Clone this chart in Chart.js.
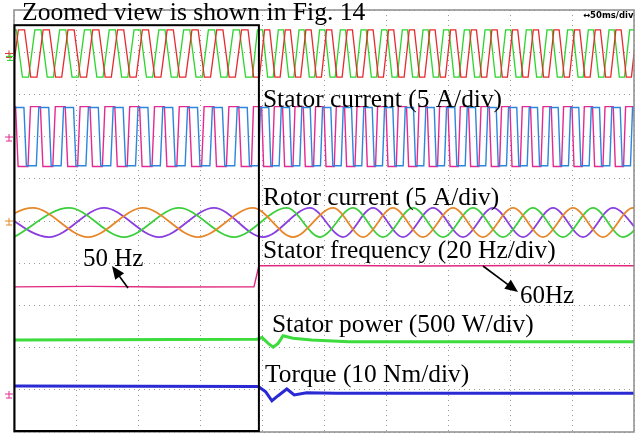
<!DOCTYPE html>
<html>
<head>
<meta charset="utf-8">
<title>Stator frequency step 50 Hz to 60 Hz</title>
<script src="https://cdn.jsdelivr.net/npm/chart.js"></script>
<style>
  body { margin: 0; background: #fff; }
  #wrap { width: 642px; height: 434px; position: relative; }
</style>
</head>
<body>
<div id="wrap"><canvas id="scope"></canvas></div>
<script>
// time axis in ms (50 ms/div, 10 div); levels in screen divisions (0 = bottom, 10 = top)

// stator voltage, zero crossings (ms)
const redRise = [1, 21, 41, 61, 81, 101, 121, 141, 161, 181, 200, 216.7, 233.3, 250, 266.7, 283.3, 300, 316.7, 333.3, 350, 366.7, 383.3, 400, 416.7, 433.3, 450, 466.7, 483.3, 500];
const redFall = [-9, 11, 31, 51, 71, 91, 111, 131, 151, 171, 191, 208.3, 225, 241.7, 258.3, 275, 291.7, 308.3, 325, 341.7, 358.3, 375, 391.7, 408.3, 425, 441.7, 458.3, 475, 491.7];
const greenRise = [14.3, 34.3, 54.3, 74.3, 94.3, 114.3, 134.3, 154.3, 174.3, 194.3, 211.1, 227.8, 244.4, 261.1, 277.8, 294.4, 311.1, 327.8, 344.4, 361.1, 377.8, 394.4, 411.1, 427.8, 444.4, 461.1, 477.8, 494.4];
const greenFall = [4.3, 24.3, 44.3, 64.3, 84.3, 104.3, 124.3, 144.3, 164.3, 184.3, 202.5, 219.4, 236.1, 252.8, 269.4, 286.1, 302.8, 319.4, 336.1, 352.8, 369.4, 386.1, 402.8, 419.4, 436.1, 452.8, 469.4, 486.1, 502.8];
const voltHi = 9.53, voltLo = 8.41;

// stator current, zero crossings (ms)
const blueRise = [-1, 19, 39, 59, 79, 99, 119, 139, 159, 179, 198, 214.7, 231.3, 248, 264.7, 281.3, 298, 314.7, 331.3, 348, 364.7, 381.3, 398, 414.7, 431.3, 448, 464.7, 481.3, 498];
const blueFall = [9, 29, 49, 69, 89, 109, 129, 149, 169, 189, 206.3, 223, 239.7, 256.3, 273, 289.7, 306.3, 323, 339.7, 356.3, 373, 389.7, 406.3, 423, 439.7, 456.3, 473, 489.7];
const pinkRise = [12.3, 32.3, 52.3, 72.3, 92.3, 112.3, 132.3, 152.3, 172.3, 192.3, 209.1, 225.8, 242.4, 259.1, 275.8, 292.4, 309.1, 325.8, 342.4, 359.1, 375.8, 392.4, 409.1, 425.8, 442.4, 459.1, 475.8, 492.4];
const pinkFall = [2.3, 22.3, 42.3, 62.3, 82.3, 102.3, 122.3, 142.3, 162.3, 182.3, 200.5, 217.4, 234.1, 250.8, 267.4, 284.1, 300.8, 317.4, 334.1, 350.8, 367.4, 384.1, 400.8, 417.4, 434.1, 450.8, 467.4, 484.1, 500.8];
const curHi = 7.69, curLo = 6.31;

// rotor current, peaks and troughs (ms)
const orangePeaks = [15.3, 104, 192.7, 257.3, 305.6, 354, 402.4, 450.8, 499.2];
const orangeTroughs = [-29, 59.7, 148.4, 225, 281.5, 329.8, 378.2, 426.6, 475, 523];
const rgreenPeaks = [44.4, 133, 220, 273.4, 321.8, 370.2, 418.5, 467, 515];
const rgreenTroughs = [0, 88.7, 177.4, 246.8, 297.6, 346, 394.4, 442.7, 491.1];
const purplePeaks = [-16, 72.6, 161.3, 238.7, 289.5, 337.9, 386.3, 434.7, 483];
const purpleTroughs = [28.2, 117, 200.8, 265.3, 313.7, 362.1, 410.5, 458.9, 507.3];
const rotorHi = 5.31, rotorLo = 4.62;

// stator frequency (Hz), 20 Hz/div
const freqT = [0, 60, 120, 193.5, 197.5, 260, 330, 420, 500];
const freqHz = [50, 50.2, 49.9, 50, 60, 60.1, 59.9, 60.1, 60];
const freqOffset = 0.94, hzPerDiv = 20;

// stator power and torque (div)
const powerT = [0, 196, 200, 205, 209, 213, 217, 225, 240, 270, 500];
const powerV = [2.18, 2.2, 2.24, 2.1, 2.01, 2.1, 2.28, 2.22, 2.18, 2.14, 2.14];
const torqueT = [0, 197, 203, 208, 213, 220, 226, 236, 260, 500];
const torqueV = [1.09, 1.08, 0.95, 0.74, 0.86, 1.02, 0.88, 0.93, 0.92, 0.92];

function trapezoid(rise, fall, hi, lo, frac) {
  const ev = rise.map(t => [t, 1]).concat(fall.map(t => [t, -1])).sort((a, b) => a[0] - b[0]);
  let level = ev[0][1] > 0 ? lo : hi;
  const pts = [{x: ev[0][0] - 10, y: level}];
  ev.forEach((e, i) => {
    const prev = i > 0 ? e[0] - ev[i - 1][0] : Infinity;
    const next = i < ev.length - 1 ? ev[i + 1][0] - e[0] : Infinity;
    const w = frac * Math.min(prev, next);
    pts.push({x: e[0] - w, y: level});
    level = e[1] > 0 ? hi : lo;
    pts.push({x: e[0] + w, y: level});
  });
  pts.push({x: ev[ev.length - 1][0] + 10, y: level});
  return pts;
}

function extremes(peaks, troughs, hi, lo) {
  return peaks.map(t => ({x: t, y: hi}))
    .concat(troughs.map(t => ({x: t, y: lo})))
    .sort((a, b) => a.x - b.x);
}

function pairs(ts, vs) {
  return ts.map((t, i) => ({x: t, y: vs[i]}));
}

function trace(data, color, width, smooth) {
  return {
    data: data,
    borderColor: color,
    borderWidth: width,
    pointRadius: 0,
    tension: 0,
    cubicInterpolationMode: smooth ? 'monotone' : 'default'
  };
}

const datasets = [
  trace(trapezoid(redRise, redFall, voltHi, voltLo, 0.25), '#e62a2e', 1.3),
  trace(trapezoid(greenRise, greenFall, voltHi, voltLo, 0.25), '#2bd62b', 1.3),
  trace(trapezoid(blueRise, blueFall, curHi, curLo, 0.1), '#2d86dc', 1.4),
  trace(trapezoid(pinkRise, pinkFall, curHi + 0.02, curLo - 0.02, 0.1), '#e42a92', 1.4),
  trace(extremes(orangePeaks, orangeTroughs, rotorHi, rotorLo), '#e8872a', 1.8, true),
  trace(extremes(rgreenPeaks, rgreenTroughs, rotorHi, rotorLo), '#3ccf3c', 1.8, true),
  trace(extremes(purplePeaks, purpleTroughs, rotorHi, rotorLo), '#8a3ee0', 1.8, true),
  trace(freqT.map((t, i) => ({x: t, y: freqOffset + freqHz[i] / hzPerDiv})), '#e0267e', 1.4),
  trace(pairs(powerT, powerV), '#3ddc3d', 3),
  trace(pairs(torqueT, torqueV), '#2a2ad4', 3)
];

const labels = [
  {text: 'Zoomed view is shown in Fig. 14', x: 22, y: 20, size: 25.6},
  {text: 'Stator current (5 A/div)', x: 263, y: 107, size: 25.4},
  {text: 'Rotor current (5 A/div)', x: 263, y: 205, size: 25.4},
  {text: 'Stator frequency (20 Hz/div)', x: 263, y: 258, size: 25.4},
  {text: '50 Hz', x: 83, y: 266, size: 25},
  {text: '60Hz', x: 520, y: 303, size: 25},
  {text: 'Stator power (500 W/div)', x: 272, y: 332, size: 25.4},
  {text: 'Torque (10 Nm/div)', x: 265, y: 382, size: 25.4}
];

function arrow(ctx, x1, y1, x2, y2) {
  const a = Math.atan2(y2 - y1, x2 - x1);
  const len = 13, half = 5.5;
  ctx.strokeStyle = '#000';
  ctx.fillStyle = '#000';
  ctx.lineWidth = 1.6;
  ctx.beginPath();
  ctx.moveTo(x1, y1);
  ctx.lineTo(x2 - Math.cos(a) * len * 0.8, y2 - Math.sin(a) * len * 0.8);
  ctx.stroke();
  ctx.beginPath();
  ctx.moveTo(x2, y2);
  ctx.lineTo(x2 - Math.cos(a) * len - Math.sin(a) * half, y2 - Math.sin(a) * len + Math.cos(a) * half);
  ctx.lineTo(x2 - Math.cos(a) * len + Math.sin(a) * half, y2 - Math.sin(a) * len - Math.cos(a) * half);
  ctx.closePath();
  ctx.fill();
}

function ground(ctx, x, y, color) {
  ctx.strokeStyle = color;
  ctx.lineWidth = 1;
  ctx.beginPath();
  ctx.moveTo(x - 4, y); ctx.lineTo(x + 4, y);
  ctx.moveTo(x, y - 3); ctx.lineTo(x, y + 4);
  ctx.moveTo(x - 3, y + 4); ctx.lineTo(x + 3, y + 4);
  ctx.stroke();
}

const overlay = {
  id: 'overlay',
  afterDraw(chart) {
    const ctx = chart.ctx;
    const area = chart.chartArea;
    const xs = chart.scales.x, ys = chart.scales.y;
    ctx.save();
    // screen frame
    ctx.strokeStyle = '#8c8c8c';
    ctx.lineWidth = 1.5;
    ctx.strokeRect(area.left, area.top, area.right - area.left, area.bottom - area.top);
    // zoomed-window box
    ctx.strokeStyle = '#000';
    ctx.lineWidth = 2;
    const bx = xs.getPixelForValue(197.5), by = ys.getPixelForValue(9.64);
    ctx.strokeRect(area.left + 0.5, by, bx - area.left - 0.5, area.bottom - by - 1);
    // channel ground markers
    ground(ctx, 9, ys.getPixelForValue(8.97), '#e62a2e');
    ground(ctx, 10, ys.getPixelForValue(8.9), '#2bd62b');
    ground(ctx, 9, ys.getPixelForValue(6.99), '#e42a92');
    ground(ctx, 9, ys.getPixelForValue(5.0), '#e8872a');
    ground(ctx, 9, ys.getPixelForValue(0.9), '#e42a92');
    // text
    ctx.fillStyle = '#000';
    ctx.textBaseline = 'alphabetic';
    labels.forEach(l => {
      ctx.font = l.size + 'px "Liberation Serif"';
      ctx.fillText(l.text, l.x, l.y);
    });
    ctx.font = 'bold 8.5px "DejaVu Sans"';
    ctx.fillText('\u219450ms/div', 583, 18);
    arrow(ctx, 128, 288, 112, 266);
    arrow(ctx, 483, 266, 518, 292);
    ctx.restore();
  }
};

new Chart(document.getElementById('scope'), {
  type: 'line',
  data: {datasets: datasets},
  options: {
    responsive: true,
    maintainAspectRatio: false,
    animation: false,
    events: [],
    layout: {padding: {left: 14, right: 8, top: 10, bottom: 2}},
    plugins: {legend: {display: false}, tooltip: {enabled: false}},
    scales: {
      x: {
        type: 'linear', min: 0, max: 500,
        ticks: {display: false, stepSize: 50},
        grid: {color: '#9a9a9a', lineWidth: 1, drawTicks: false},
        border: {display: false, dash: [1, 4]}
      },
      y: {
        type: 'linear', min: 0, max: 10,
        ticks: {display: false, stepSize: 1},
        grid: {color: '#9a9a9a', lineWidth: 1, drawTicks: false},
        border: {display: false, dash: [1, 4]}
      }
    }
  },
  plugins: [overlay]
});
</script>
</body>
</html>
